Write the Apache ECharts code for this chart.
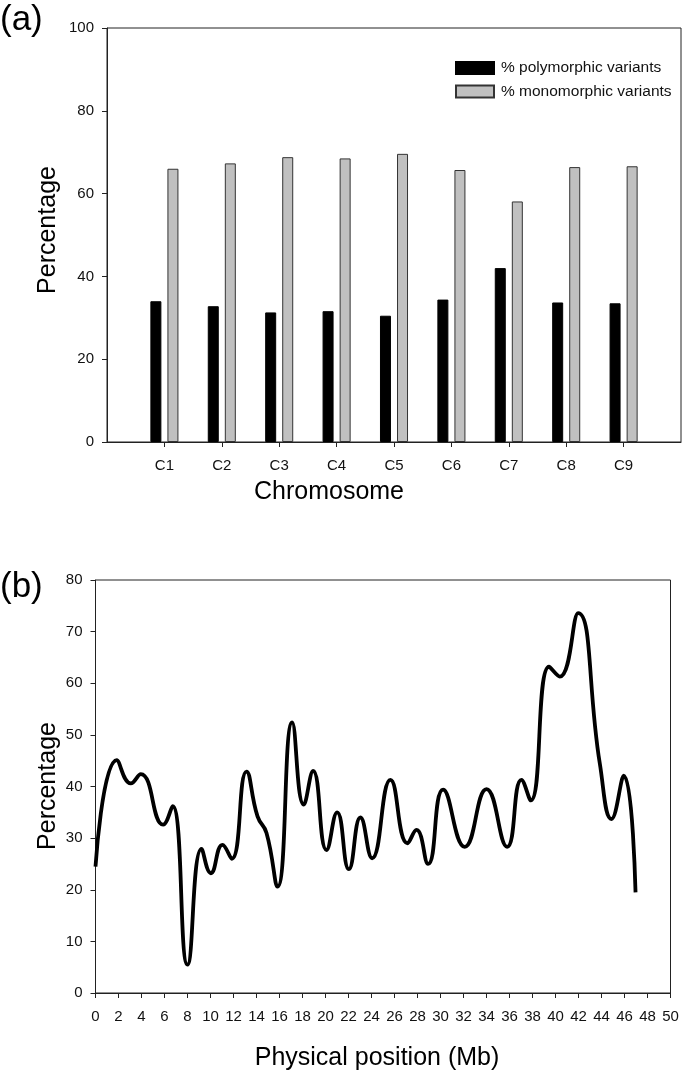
<!DOCTYPE html>
<html>
<head>
<meta charset="utf-8">
<script src="https://cdn.jsdelivr.net/npm/echarts@6/dist/echarts.min.js"></script>
<style>
  html, body { margin: 0; padding: 0; background: #ffffff; }
  #chart { width: 685px; height: 1072px; }
</style>
</head>
<body>
<div id="chart"></div>
<script>
// ---- Panel (a) data ----
const chromosomes = ['C1', 'C2', 'C3', 'C4', 'C5', 'C6', 'C7', 'C8', 'C9'];
const polymorphic = [34.0, 32.8, 31.3, 31.6, 30.5, 34.4, 42.0, 33.7, 33.5];
const monomorphic = [66.0, 67.3, 68.8, 68.5, 69.6, 65.7, 58.1, 66.4, 66.6];
const seriesNames = ['% polymorphic variants', '% monomorphic variants'];

// ---- Panel (b) data ----
const positionMb = [0, 1.85, 3.07, 3.94, 5.88, 6.7, 8.0, 9.22, 10.03, 11.04, 11.85, 13.13, 14.09, 14.87, 15.83, 17.1, 18.11, 18.92, 20.09, 21.01, 22.03, 23.04, 24.05, 25.65, 27.13, 27.91, 28.92, 30.23, 32.11, 34.0, 35.79, 37.04, 37.85, 39.44, 40.37, 41.97, 43.85, 44.87, 45.94, 46.96];
const percentB = [24.5, 45.1, 40.6, 42.4, 32.6, 36.2, 5.5, 27.9, 23.2, 28.7, 26.0, 42.9, 34.2, 31.0, 20.6, 52.4, 36.5, 43.0, 27.7, 35.0, 24.0, 34.0, 26.1, 41.3, 29.0, 31.6, 25.0, 39.4, 28.3, 39.5, 28.3, 41.3, 37.3, 63.2, 61.3, 73.6, 44.5, 33.7, 42.1, 19.5];

const FONT = '"Liberation Sans", Arial, Helvetica, sans-serif';
const AX = '#222';

const catAxisData = [''].concat(chromosomes, ['']);
const padSeries = arr => ['-'].concat(arr, ['-']);

const chart = echarts.init(document.getElementById('chart'), null, { renderer: 'canvas' });

const option = {
  animation: false,
  backgroundColor: '#ffffff',
  textStyle: { fontFamily: FONT },
  grid: [
    { left: 107, right: 4, top: 28, height: 414, show: true, borderColor: AX, borderWidth: 1, containLabel: false },
    { left: 95.5, right: 14.5, top: 580, height: 413, show: true, borderColor: AX, borderWidth: 1, containLabel: false }
  ],
  legend: {
    data: seriesNames,
    orient: 'vertical',
    left: 455,
    top: 60,
    padding: 0,
    itemWidth: 38,
    itemHeight: 12,
    itemGap: 7.5,
    icon: 'rect',
    textStyle: { fontFamily: FONT, fontSize: 15.5, color: '#111', padding: [0, 0, 0, 2] }
  },
  xAxis: [
    {
      gridIndex: 0,
      type: 'category',
      data: catAxisData,
      boundaryGap: false,
      axisLine: { show: true, lineStyle: { color: AX, width: 1 } },
      axisTick: { show: true, length: 5, lineStyle: { color: AX }, interval: (i, v) => v !== '' },
      axisLabel: { interval: 0, margin: 16, fontFamily: FONT, fontSize: 15, color: '#111' },
      splitLine: { show: false }
    },
    {
      gridIndex: 1,
      type: 'value',
      min: 0,
      max: 50,
      interval: 2,
      axisLine: { show: true, lineStyle: { color: AX, width: 1 } },
      axisTick: { show: true, length: 5, lineStyle: { color: AX } },
      axisLabel: { margin: 16, fontFamily: FONT, fontSize: 15, color: '#111', showMinLabel: true, showMaxLabel: true },
      splitLine: { show: false }
    }
  ],
  yAxis: [
    {
      gridIndex: 0,
      type: 'value',
      min: 0,
      max: 100,
      interval: 20,
      axisLine: { show: true, lineStyle: { color: AX, width: 1 } },
      axisTick: { show: true, length: 5, lineStyle: { color: AX } },
      axisLabel: { margin: 13, fontFamily: FONT, fontSize: 15, color: '#111' },
      splitLine: { show: false }
    },
    {
      gridIndex: 1,
      type: 'value',
      min: 0,
      max: 80,
      interval: 10,
      axisLine: { show: true, lineStyle: { color: AX, width: 1 } },
      axisTick: { show: true, length: 5, lineStyle: { color: AX } },
      axisLabel: { margin: 13, fontFamily: FONT, fontSize: 15, color: '#111' },
      splitLine: { show: false }
    }
  ],
  series: [
    {
      name: seriesNames[0],
      type: 'bar',
      xAxisIndex: 0,
      yAxisIndex: 0,
      data: padSeries(polymorphic),
      barWidth: 11,
      barGap: '55%',
      itemStyle: { color: '#000000', borderColor: '#000000', borderWidth: 1 }
    },
    {
      name: seriesNames[1],
      type: 'bar',
      xAxisIndex: 0,
      yAxisIndex: 0,
      data: padSeries(monomorphic),
      barWidth: 11,
      barGap: '55%',
      itemStyle: { color: '#c0c0c0', borderColor: '#333333', borderWidth: 1 }
    },
    {
      name: 'position',
      type: 'line',
      xAxisIndex: 1,
      yAxisIndex: 1,
      data: positionMb.map((x, i) => [x, percentB[i]]),
      smooth: 0.5,
      showSymbol: false,
      symbol: 'none',
      lineStyle: { color: '#000', width: 3.8, cap: 'butt', join: 'round' }
    }
  ],
  graphic: [
    { type: 'text', x: 0, y: 20, style: { text: '(a)', font: '35px ' + FONT, fill: '#000', textAlign: 'left', textVerticalAlign: 'middle' } },
    { type: 'text', x: 0, y: 587, style: { text: '(b)', font: '35px ' + FONT, fill: '#000', textAlign: 'left', textVerticalAlign: 'middle' } },
    { type: 'text', x: 329, y: 492, style: { text: 'Chromosome', font: '25px ' + FONT, fill: '#000', textAlign: 'center', textVerticalAlign: 'middle' } },
    { type: 'text', x: 377, y: 1058, style: { text: 'Physical position (Mb)', font: '25px ' + FONT, fill: '#000', textAlign: 'center', textVerticalAlign: 'middle' } },
    { type: 'text', x: 48, y: 230, rotation: Math.PI / 2, style: { text: 'Percentage', font: '25px ' + FONT, fill: '#000', textAlign: 'center', textVerticalAlign: 'middle' } },
    { type: 'text', x: 48, y: 786, rotation: Math.PI / 2, style: { text: 'Percentage', font: '25px ' + FONT, fill: '#000', textAlign: 'center', textVerticalAlign: 'middle' } }
  ]
};
chart.setOption(option);
</script>
</body>
</html>
